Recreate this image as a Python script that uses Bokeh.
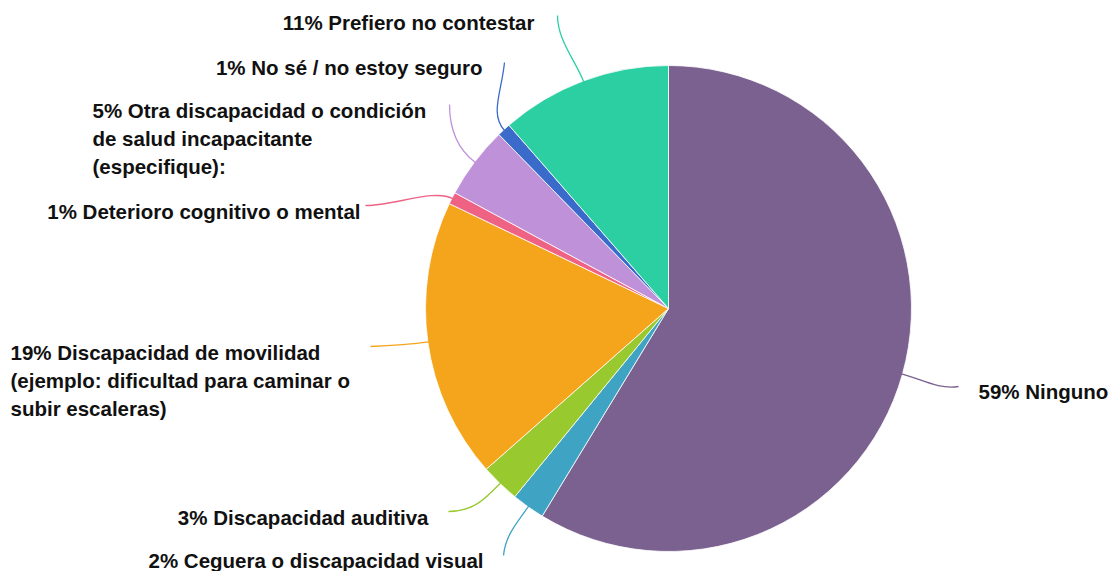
import math
from bokeh.plotting import figure
from bokeh.models import Range1d, ColumnDataSource
from bokeh.core.properties import value
from bokeh.embed import file_html
from bokeh.resources import INLINE

# ---- data ----
categories = [
    "Ninguno",
    "Ceguera o discapacidad visual",
    "Discapacidad auditiva",
    "Discapacidad de movilidad\n(ejemplo: dificultad para caminar o\nsubir escaleras)",
    "Deterioro cognitivo o mental",
    "Otra discapacidad o condición\nde salud incapacitante\n(especifique):",
    "No sé / no estoy seguro",
    "Prefiero no contestar",
]
percents = [58.7, 2.2, 2.6, 18.6, 0.8, 4.8, 0.9, 11.4]
colors = ["#7B6190", "#3FA3C4", "#98C92E", "#F4A51B", "#EE6384", "#BF91D9", "#3A6BCB", "#2CCFA2"]

# ---- layout (screen pixel coordinates; y grows downward, negated for bokeh) ----
W, H = 1110, 571
CX, CY, R = 668, 308, 243
label_pos = [
    (978, 391, "left"),
    (483, 560, "right"),
    (428, 517, "right"),
    (10, 352, "left"),
    (360, 211, "right"),
    (92, 110, "left"),
    (482, 67, "right"),
    (534, 22, "right"),
]
leader_end = [(958, 386), (503, 555), (448, 511), (370, 346), (365, 205), (449, 104), (504, 62), (557, 15)]
end_ctrl = [(-20, 3), (2, -20), (25, 0), (25, -1), (30, 0), (0, 25), (-3, 30), (0, 25)]
LINE_H = 28

p = figure(width=W, height=H, output_backend="svg", toolbar_location=None,
           x_range=Range1d(0, W), y_range=Range1d(-H, 0),
           min_border=0)
p.axis.visible = False
p.grid.visible = False
p.outline_line_color = None
p.background_fill_color = "white"
p.border_fill_color = "white"

total = sum(percents)
starts, ends, mids = [], [], []
cum = 0.0
for v in percents:
    a0 = cum / total * 2 * math.pi
    cum += v
    a1 = cum / total * 2 * math.pi
    starts.append(math.pi / 2 - a1)
    ends.append(math.pi / 2 - a0)
    mids.append((a0 + a1) / 2)

src = ColumnDataSource(dict(x=[CX] * len(percents), y=[-CY] * len(percents),
                            start=starts, end=ends, color=colors))
p.wedge(x="x", y="y", radius=R, start_angle="start", end_angle="end",
        direction="anticlock", fill_color="color", line_color="white",
        line_width=0.8, source=src)

# leader lines
bx0, by0, bx1, by1, c0x, c0y, c1x, c1y = [], [], [], [], [], [], [], []
for m, (ex, ey), (dx, dy) in zip(mids, leader_end, end_ctrl):
    sx = CX + (R - 1) * math.sin(m)
    sy = CY - (R - 1) * math.cos(m)
    bx0.append(sx); by0.append(-sy)
    bx1.append(ex); by1.append(-ey)
    c0x.append(sx + 22 * math.sin(m)); c0y.append(-(sy - 22 * math.cos(m)))
    c1x.append(ex + dx); c1y.append(-(ey + dy))
p.bezier(x0=bx0, y0=by0, x1=bx1, y1=by1, cx0=c0x, cy0=c0y, cx1=c1x, cy1=c1y,
         line_color=colors, line_width=1.3)

# labels
tx, ty, tt, ta = [], [], [], []
for cat, v, (lx, ly, al) in zip(categories, percents, label_pos):
    lines = ("%d%% %s" % (round(v), cat)).split("\n")
    for i, ln in enumerate(lines):
        tx.append(lx); ty.append(-(ly + i * LINE_H)); tt.append(ln); ta.append(al)
p.text(x=tx, y=ty, text=tt, text_align=ta, text_baseline="middle",
       text_font=value("Liberation Sans"), text_font_style="bold",
       text_font_size="20.5px", text_color="#111111")

open("out.html", "w").write(file_html(p, INLINE))
